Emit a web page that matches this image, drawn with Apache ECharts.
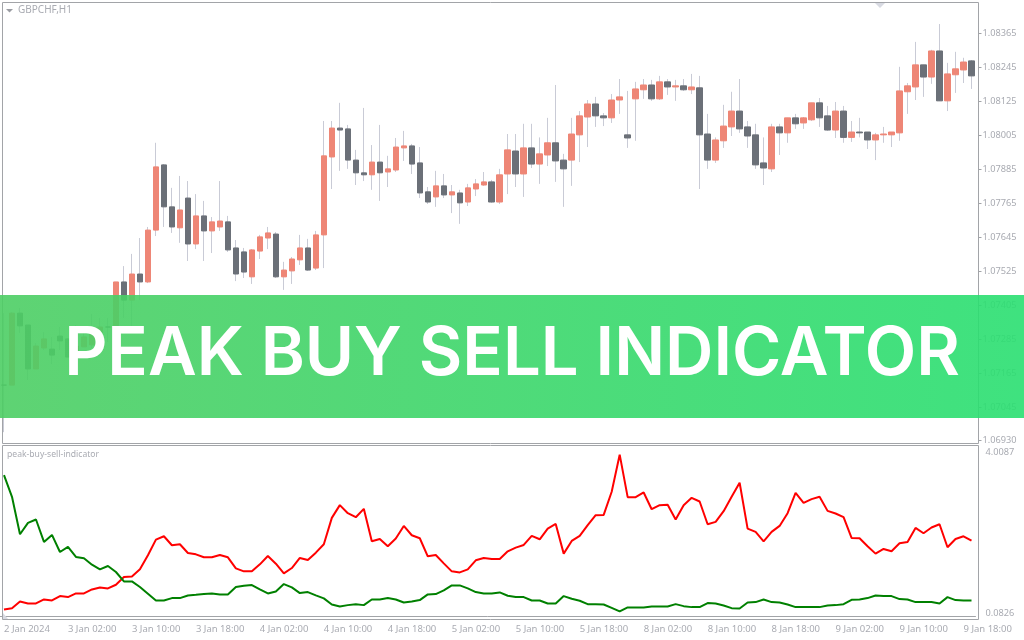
<!DOCTYPE html>
<html>
<head>
<meta charset="utf-8">
<title>Peak Buy Sell Indicator</title>
<script src="https://cdn.jsdelivr.net/npm/echarts@6/dist/echarts.min.js"></script>
<style>
html,body{margin:0;padding:0;background:#fff}
#chart{width:1024px;height:640px}
</style>
</head>
<body>
<div id="chart"></div>
<script>
// GBPCHF H1 candles
var opens = [1.07124,1.07124,1.07378,1.07336,1.07181,1.07255,1.07251,1.07297,1.07287,1.07230,1.07259,1.07266,1.07308,1.07329,1.07325,1.07488,1.07424,1.07516,1.07488,1.07671,1.07901,1.07753,1.07679,1.07784,1.07622,1.07721,1.07668,1.07682,1.07700,1.07608,1.07594,1.07506,1.07597,1.07643,1.07657,1.07506,1.07527,1.07566,1.07608,1.07537,1.07654,1.07929,1.08031,1.08028,1.07918,1.07873,1.07866,1.07911,1.07876,1.07883,1.07961,1.07968,1.07908,1.07806,1.07788,1.07827,1.07795,1.07802,1.07770,1.07816,1.07830,1.07841,1.07770,1.07869,1.07950,1.07869,1.07961,1.07904,1.07936,1.07979,1.07918,1.07918,1.08007,1.08070,1.08116,1.08074,1.08067,1.08130,1.08007,1.08134,1.08166,1.08183,1.08134,1.08194,1.08176,1.08180,1.08166,1.08173,1.08010,1.07918,1.07986,1.08035,1.08091,1.08035,1.08007,1.07908,1.07887,1.08035,1.08014,1.08067,1.08049,1.08060,1.08120,1.08074,1.08024,1.08091,1.07998,1.08017,1.08017,1.07989,1.08007,1.08007,1.08014,1.08159,1.08176,1.08254,1.08211,1.08303,1.08127,1.08219,1.08236,1.08268];
var closes = [1.07124,1.07378,1.07333,1.07181,1.07262,1.07287,1.07230,1.07280,1.07223,1.07262,1.07294,1.07311,1.07329,1.07329,1.07488,1.07424,1.07516,1.07488,1.07671,1.07894,1.07753,1.07682,1.07742,1.07622,1.07721,1.07668,1.07700,1.07703,1.07601,1.07516,1.07523,1.07601,1.07647,1.07661,1.07506,1.07530,1.07569,1.07608,1.07530,1.07654,1.07933,1.08031,1.08024,1.07918,1.07873,1.07866,1.07911,1.07873,1.07887,1.07964,1.07968,1.07904,1.07802,1.07770,1.07827,1.07795,1.07806,1.07767,1.07820,1.07834,1.07841,1.07770,1.07866,1.07954,1.07869,1.07961,1.07904,1.07940,1.07979,1.07915,1.07887,1.08010,1.08074,1.08116,1.08074,1.08067,1.08130,1.08141,1.07996,1.08169,1.08183,1.08134,1.08194,1.08176,1.08180,1.08166,1.08176,1.08007,1.07918,1.07989,1.08038,1.08091,1.08028,1.08003,1.07901,1.07890,1.08035,1.08014,1.08067,1.08046,1.08067,1.08120,1.08067,1.08024,1.08091,1.07998,1.08017,1.08014,1.07989,1.08007,1.08010,1.08017,1.08162,1.08180,1.08254,1.08211,1.08303,1.08127,1.08222,1.08240,1.08264,1.08215];
var lows = [1.06958,1.07124,1.07308,1.07142,1.07181,1.07248,1.07198,1.07248,1.07223,1.07198,1.07259,1.07255,1.07276,1.07276,1.07325,1.07361,1.07333,1.07424,1.07484,1.07650,1.07682,1.07661,1.07626,1.07562,1.07604,1.07562,1.07590,1.07668,1.07594,1.07491,1.07502,1.07481,1.07569,1.07604,1.07502,1.07460,1.07481,1.07548,1.07527,1.07530,1.07537,1.07816,1.07880,1.07887,1.07830,1.07844,1.07813,1.07774,1.07823,1.07876,1.07915,1.07869,1.07784,1.07763,1.07753,1.07784,1.07731,1.07693,1.07756,1.07791,1.07827,1.07767,1.07763,1.07798,1.07823,1.07788,1.07890,1.07834,1.07897,1.07841,1.07753,1.07827,1.07911,1.07964,1.08035,1.08038,1.08049,1.08081,1.07961,1.07986,1.08134,1.08127,1.08130,1.08148,1.08127,1.08162,1.08151,1.07816,1.07887,1.07908,1.07961,1.08003,1.08014,1.07961,1.07887,1.07830,1.07876,1.07936,1.07979,1.08028,1.08028,1.08056,1.08035,1.08021,1.07996,1.07979,1.07982,1.07998,1.07957,1.07918,1.07979,1.07964,1.07986,1.08081,1.08130,1.08141,1.08187,1.08127,1.08091,1.08155,1.08190,1.08169];
var highs = [1.07378,1.07382,1.07396,1.07336,1.07272,1.07311,1.07294,1.07329,1.07290,1.07336,1.07329,1.07375,1.07361,1.07361,1.07488,1.07544,1.07587,1.07643,1.07682,1.07979,1.07904,1.07820,1.07862,1.07844,1.07798,1.07774,1.07717,1.07844,1.07721,1.07636,1.07608,1.07604,1.07654,1.07682,1.07664,1.07559,1.07576,1.07654,1.07640,1.07668,1.08056,1.08056,1.08120,1.08042,1.07954,1.08102,1.07971,1.08042,1.07933,1.07996,1.08021,1.07975,1.07964,1.07823,1.07880,1.07869,1.07830,1.07813,1.07834,1.07851,1.07876,1.07848,1.07887,1.08010,1.08010,1.08046,1.08046,1.07998,1.08067,1.08183,1.07940,1.08067,1.08091,1.08130,1.08141,1.08084,1.08151,1.08204,1.08162,1.08194,1.08204,1.08201,1.08215,1.08204,1.08201,1.08204,1.08222,1.08215,1.08081,1.07998,1.08113,1.08159,1.08204,1.08056,1.08046,1.07998,1.08046,1.08046,1.08067,1.08081,1.08070,1.08120,1.08137,1.08109,1.08123,1.08109,1.08056,1.08067,1.08017,1.08014,1.08035,1.08017,1.08247,1.08190,1.08335,1.08254,1.08307,1.08398,1.08261,1.08300,1.08279,1.08271];

// indicator lines, one value per candle
var redLine = [0.173,0.205,0.369,0.320,0.320,0.418,0.393,0.500,0.475,0.565,0.565,0.663,0.712,0.688,0.778,0.966,0.982,1.154,1.498,1.882,1.964,1.743,1.768,1.555,1.522,1.449,1.449,1.506,1.449,1.179,1.105,1.105,1.277,1.481,1.293,1.056,1.187,1.432,1.383,1.563,1.768,2.414,2.725,2.528,2.430,2.635,1.841,1.898,1.718,1.907,2.217,1.988,1.915,1.473,1.506,1.301,1.105,1.080,1.154,1.375,1.432,1.408,1.408,1.596,1.686,1.751,1.972,1.890,2.152,2.266,1.539,1.849,1.972,2.234,2.479,2.487,3.052,3.960,2.921,2.921,3.035,2.626,2.725,2.733,2.373,2.725,2.904,2.815,2.258,2.316,2.577,2.929,3.273,2.152,2.070,1.841,2.070,2.217,2.528,3.027,2.782,2.872,2.929,2.585,2.520,2.430,1.923,1.915,1.718,1.539,1.653,1.596,1.792,1.825,2.168,2.037,2.177,2.258,1.694,1.898,1.964,1.857];
var greenLine = [3.461,2.929,2.013,2.291,2.373,1.825,1.997,1.579,1.702,1.457,1.424,1.269,1.154,1.236,1.089,0.860,0.860,0.721,0.557,0.393,0.393,0.451,0.451,0.516,0.532,0.549,0.565,0.541,0.541,0.721,0.753,0.770,0.663,0.565,0.614,0.794,0.712,0.573,0.598,0.516,0.443,0.295,0.246,0.279,0.303,0.279,0.418,0.418,0.451,0.418,0.344,0.369,0.402,0.541,0.549,0.639,0.761,0.761,0.688,0.598,0.565,0.565,0.590,0.508,0.475,0.475,0.393,0.393,0.320,0.320,0.500,0.434,0.385,0.303,0.303,0.295,0.213,0.124,0.222,0.222,0.222,0.246,0.246,0.246,0.303,0.254,0.230,0.230,0.328,0.320,0.271,0.205,0.197,0.344,0.353,0.418,0.353,0.344,0.295,0.230,0.230,0.230,0.230,0.271,0.279,0.303,0.410,0.418,0.451,0.516,0.500,0.500,0.426,0.418,0.353,0.353,0.353,0.320,0.475,0.402,0.393,0.393];

// tick labels
var timeLabels = ['2 Jan 2024','3 Jan 02:00','3 Jan 10:00','3 Jan 18:00','4 Jan 02:00','4 Jan 10:00','4 Jan 18:00','5 Jan 02:00','5 Jan 10:00','5 Jan 18:00','8 Jan 02:00','8 Jan 10:00','8 Jan 18:00','9 Jan 02:00','9 Jan 10:00','9 Jan 18:00'];
var priceTicks = [1.06930,1.07045,1.07165,1.07285,1.07405,1.07525,1.07645,1.07765,1.07885,1.08005,1.08125,1.08245,1.08365];
var indicatorTicks = [0.0826,4.0087];

var categories = opens.map(function (v, i) { return i; });
var wicks = opens.map(function (v, i) { return [opens[i], closes[i], lows[i], highs[i]]; });
var bodies = opens.map(function (v, i) {
    return [opens[i], closes[i], Math.min(opens[i], closes[i]), Math.max(opens[i], closes[i])];
});

var frameColor = '#a2a4a8';
var textColor = '#a9abb2';
var font = 'Noto Sans';

var chart = echarts.init(document.getElementById('chart'), null, {renderer: 'canvas'});
chart.setOption({
    animation: false,
    backgroundColor: '#ffffff',
    grid: [
        {left: -0.5, width: 976, top: 2.5, height: 441},
        {left: -0.5, width: 976, top: 445.5, height: 174}
    ],
    xAxis: [
        {type: 'category', gridIndex: 0, data: categories, show: false},
        {
            type: 'category', gridIndex: 1, data: categories,
            axisLine: {lineStyle: {color: frameColor}},
            axisTick: {interval: 7, alignWithLabel: true, length: 3, lineStyle: {color: frameColor}},
            axisLabel: {
                interval: 7, align: 'left', margin: 5, color: textColor, fontFamily: font, fontSize: 9.5,
                hideOverlap: false,
                formatter: function (value, index) { return timeLabels[index / 8]; }
            }
        }
    ],
    yAxis: [
        {
            type: 'value', gridIndex: 0, position: 'right', offset: 3,
            min: 1.06918, max: 1.08474, splitLine: {show: false},
            axisLine: {show: false},
            axisTick: {show: true, length: 3, customValues: priceTicks, lineStyle: {color: frameColor}},
            axisLabel: {
                customValues: priceTicks, margin: 4, color: textColor, fontFamily: font, fontSize: 9.2,
                padding: [3, 0, 0, 0],
                formatter: function (v) { return v.toFixed(5); }
            }
        },
        {
            type: 'value', gridIndex: 1, position: 'right', offset: 3,
            min: -0.0728, max: 4.1845, splitLine: {show: false},
            axisLine: {show: false},
            axisTick: {show: false},
            axisLabel: {
                customValues: indicatorTicks, margin: 7, color: textColor, fontFamily: font, fontSize: 9.2,
                padding: [1, 0, 0, 0],
                formatter: function (v) { return v.toFixed(4); }
            }
        }
    ],
    series: [
        {
            type: 'candlestick', name: 'wicks', xAxisIndex: 0, yAxisIndex: 0, data: wicks, barWidth: 1,
            itemStyle: {
                color: '#c9cbd6', color0: '#c9cbd6', borderColor: '#c9cbd6', borderColor0: '#c9cbd6',
                borderColorDoji: '#c9cbd6', borderWidth: 1
            }
        },
        {
            type: 'candlestick', name: 'bodies', xAxisIndex: 0, yAxisIndex: 0, data: bodies, barWidth: 6,
            itemStyle: {
                color: '#ee8676', color0: '#6b7078', borderColor: '#ee8676', borderColor0: '#6b7078',
                borderColorDoji: '#6b7078', borderWidth: 1
            }
        },
        {
            type: 'line', name: 'red', xAxisIndex: 1, yAxisIndex: 1, data: redLine,
            symbol: 'none', lineStyle: {color: '#ff0000', width: 2}
        },
        {
            type: 'line', name: 'green', xAxisIndex: 1, yAxisIndex: 1, data: greenLine,
            symbol: 'none', lineStyle: {color: '#008000', width: 2}
        }
    ],
    graphic: [
        // window frames
        {type: 'rect', shape: {x: 2.5, y: 2.5, width: 976, height: 441}, style: {fill: null, stroke: frameColor, lineWidth: 1}, z: 1},
        {type: 'rect', shape: {x: 2.5, y: 445.5, width: 976, height: 174}, style: {fill: null, stroke: frameColor, lineWidth: 1}, z: 1},
        {type: 'polygon', shape: {points: [[6, 9], [13, 9], [9.5, 12.5]]}, style: {fill: '#9a9ca2'}, z: 3},
        {type: 'polygon', shape: {points: [[875, 3], [885, 3], [880, 8]]}, style: {fill: '#d8dae2'}, z: 3},
        {type: 'polygon', shape: {points: [[3, 613], [3, 619], [8, 619]]}, style: {fill: '#d8dae2'}, z: 3},
        {type: 'text', x: 18, y: 5, style: {text: 'GBPCHF,H1', fill: textColor, font: '10px "' + font + '"'}, z: 3},
        {type: 'text', x: 7, y: 450, style: {text: 'peak-buy-sell-indicator', fill: textColor, font: '8.6px "' + font + '"'}, z: 3},
        // banner over the chart
        {
            type: 'rect', shape: {x: 0, y: 295, width: 1024, height: 123}, z: 100,
            style: {
                fill: new echarts.graphic.LinearGradient(0, 0, 1, 0, [
                    {offset: 0, color: 'rgba(77,206,100,0.9)'},
                    {offset: 1, color: 'rgba(42,223,113,0.9)'}
                ])
            }
        },
        {
            type: 'text', x: 512, y: 355, z: 101,
            style: {
                text: 'PEAK BUY SELL INDICATOR', fill: '#ffffff', align: 'center', verticalAlign: 'middle',
                font: '600 67px Inter'
            }
        }
    ]
});
</script>
</body>
</html>
